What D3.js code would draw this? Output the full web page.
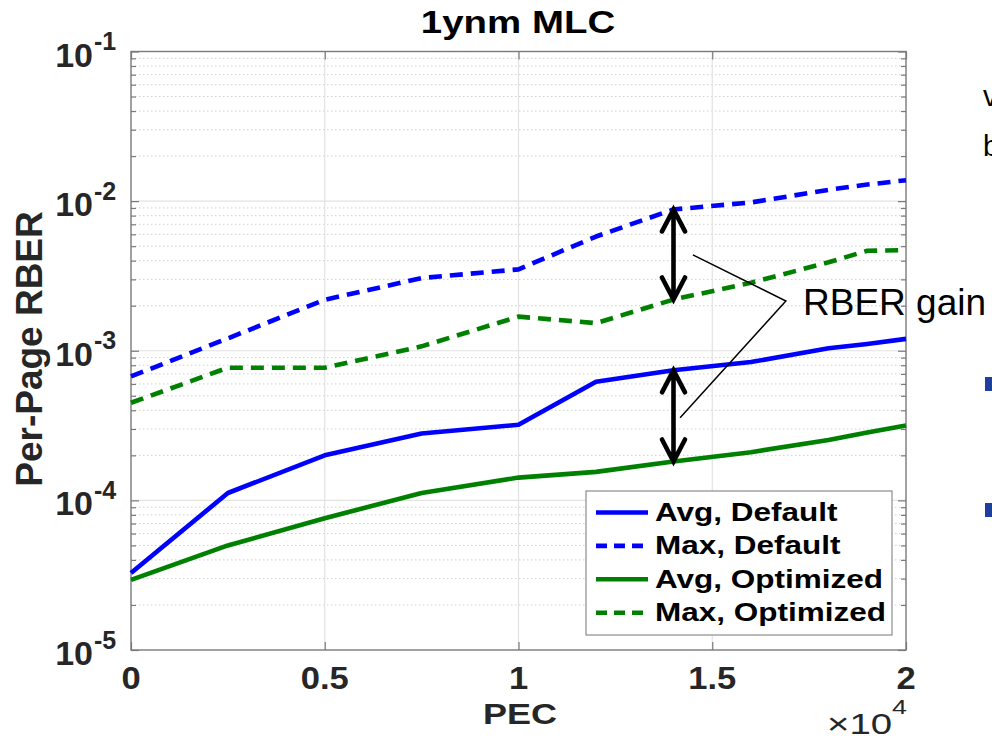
<!DOCTYPE html>
<html><head><meta charset="utf-8">
<script src="https://cdn.jsdelivr.net/npm/d3@7"></script>
<style>body{margin:0;background:#fff} svg{display:block}</style>
</head><body><svg id="c" width="992" height="740"></svg>
<script>
// ---- data ----
const pec = [0, 2500, 5000, 7500, 10000, 12000, 14000, 16000, 18000, 19000, 20000];
const avgDefault   = [3.27e-5, 1.12e-4, 2.0e-4, 2.8e-4, 3.2e-4, 6.2e-4, 7.4e-4, 8.4e-4, 1.04e-3, 1.11e-3, 1.2e-3];
const maxDefault   = [6.73e-4, 1.21e-3, 2.19e-3, 3.06e-3, 3.5e-3, 5.8e-3, 8.8e-3, 9.8e-3, 1.19e-2, 1.29e-2, 1.38e-2];
const avgOptimized = [2.94e-5, 5.0e-5, 7.6e-5, 1.12e-4, 1.42e-4, 1.55e-4, 1.82e-4, 2.1e-4, 2.53e-4, 2.84e-4, 3.16e-4];
const maxOptimized = [4.49e-4, 7.7e-4, 7.7e-4, 1.07e-3, 1.69e-3, 1.53e-3, 2.2e-3, 2.85e-3, 3.9e-3, 4.66e-3, 4.7e-3];
const seriesNames = ["Avg, Default", "Max, Default", "Avg, Optimized", "Max, Optimized"];
const xTicks = [0, 5000, 10000, 15000, 20000];
const xTickLabels = ["0", "0.5", "1", "1.5", "2"];
const yTickExps = [-5, -4, -3, -2, -1];
const arrowPec = 14000;
const gainLine = [[14500, 4.37e-3], [16900, 2.15e-3], [14170, 3.56e-4]];

// ---- layout ----
const L = 131, R = 906, T = 51.5, B = 650;
const x = d3.scaleLinear().domain([0, 20000]).range([L, R]);
const y = d3.scaleLog().domain([1e-5, 1e-1]).range([B, T]);
const svg = d3.select("#c");
const FONT = "'Liberation Sans', Arial, Helvetica, sans-serif";
svg.append("rect").attr("width", 992).attr("height", 740).attr("fill", "#fff");

const majorY = yTickExps.map(e => Math.pow(10, e));
const minorY = [];
yTickExps.slice(0, -1).forEach(e => { for (let k = 2; k <= 9; k++) minorY.push(k * Math.pow(10, e)); });

// grid
const g = svg.append("g");
g.selectAll(".mg").data(minorY).join("line")
  .attr("x1", L).attr("x2", R).attr("y1", d => y(d)).attr("y2", d => y(d))
  .attr("stroke", "#cfcfcf").attr("stroke-width", 1).attr("stroke-dasharray", "1.5,2.5");
g.selectAll(".Mg").data(majorY.slice(1, -1)).join("line")
  .attr("x1", L).attr("x2", R).attr("y1", d => y(d)).attr("y2", d => y(d))
  .attr("stroke", "#e2e2e2").attr("stroke-width", 1.2);
g.selectAll(".xg").data(xTicks.slice(1, -1)).join("line")
  .attr("y1", T).attr("y2", B).attr("x1", d => x(d)).attr("x2", d => x(d))
  .attr("stroke", "#e2e2e2").attr("stroke-width", 1.2);

// ticks via d3 axes (inward)
const axCol = "#7a7a7a";
function styleAxis(sel) {
  sel.select(".domain").remove();
  sel.selectAll("line").attr("stroke", axCol).attr("stroke-width", 1.2);
  sel.selectAll("text").remove();
}
svg.append("g").attr("transform", `translate(${L},0)`).call(d3.axisLeft(y).tickValues(majorY).tickSize(-8).tickFormat("")).call(styleAxis);
svg.append("g").attr("transform", `translate(${L},0)`).call(d3.axisLeft(y).tickValues(minorY).tickSize(-5).tickFormat("")).call(styleAxis);
svg.append("g").attr("transform", `translate(${R},0)`).call(d3.axisRight(y).tickValues(majorY).tickSize(-8).tickFormat("")).call(styleAxis);
svg.append("g").attr("transform", `translate(${R},0)`).call(d3.axisRight(y).tickValues(minorY).tickSize(-5).tickFormat("")).call(styleAxis);
svg.append("g").attr("transform", `translate(0,${B})`).call(d3.axisBottom(x).tickValues(xTicks).tickSize(-8).tickFormat("")).call(styleAxis);
svg.append("g").attr("transform", `translate(0,${T})`).call(d3.axisTop(x).tickValues(xTicks).tickSize(-8).tickFormat("")).call(styleAxis);

// box
svg.append("rect").attr("x", L).attr("y", T).attr("width", R - L).attr("height", B - T)
  .attr("fill", "none").attr("stroke", axCol).attr("stroke-width", 1.4);

// series
const BLUE = "#0000ff", GREEN = "#008000";
const series = [
  { name: seriesNames[0], vals: avgDefault, color: BLUE, dash: null },
  { name: seriesNames[1], vals: maxDefault, color: BLUE, dash: "13,8" },
  { name: seriesNames[2], vals: avgOptimized, color: GREEN, dash: null },
  { name: seriesNames[3], vals: maxOptimized, color: GREEN, dash: "13,8" }
];
const line = d3.line().x(d => x(d[0])).y(d => y(d[1]));
series.forEach(s => {
  svg.append("path").datum(pec.map((p, i) => [p, s.vals[i]]))
    .attr("d", line).attr("fill", "none").attr("stroke", s.color)
    .attr("stroke-width", 4.6).attr("stroke-linejoin", "round")
    .attr("stroke-dasharray", s.dash);
});

// helper for text with horizontal stretch
function txt(xp, yp, str, size, opts = {}) {
  const t = svg.append("text")
    .attr("transform", `translate(${xp},${yp}) ${opts.rot ? "rotate(" + opts.rot + ")" : ""} scale(${opts.sx || 1},1)`)
    .attr("font-family", FONT).attr("font-size", size)
    .attr("font-weight", opts.weight || "normal")
    .attr("fill", opts.fill || "#000")
    .attr("text-anchor", opts.anchor || "start")
    .text(str);
  return t;
}

// title
txt(518, 33, "1ynm MLC", 31, { weight: "bold", anchor: "middle", sx: 1.24 });

// y tick labels
yTickExps.forEach(e => {
  const yy = y(Math.pow(10, e));
  txt(93, yy + 15, "10", 34, { weight: "bold", anchor: "end", fill: "#262626" });
  txt(94, yy - 1.5, String(e), 25, { weight: "bold", fill: "#262626" });
});
// x tick labels
xTicks.forEach((v, i) => {
  txt(x(v), 689, xTickLabels[i], 32, { weight: "bold", anchor: "middle", sx: 1.08, fill: "#262626" });
});
// axis labels
txt(520, 724, "PEC", 30, { weight: "bold", anchor: "middle", sx: 1.2, fill: "#262626" });
txt(42, 349, "Per-Page RBER", 37, { weight: "bold", anchor: "middle", rot: -90, fill: "#262626" });
// exponent label
const ex = svg.append("text").attr("transform", "translate(827,734) scale(1.28,1)")
  .attr("font-family", FONT).attr("fill", "#262626");
ex.append("tspan").attr("font-size", 30).text("\u00d710");
ex.append("tspan").attr("font-size", 21).attr("dy", -20).text("4");

// legend
const lg = svg.append("g");
lg.append("rect").attr("x", 586).attr("y", 491).attr("width", 306).attr("height", 144)
  .attr("fill", "#fff").attr("stroke", "#8c8c8c").attr("stroke-width", 1.2);
series.forEach((s, i) => {
  const yy = 512.5 + i * 33.4;
  lg.append("line").attr("x1", 596).attr("x2", 648).attr("y1", yy).attr("y2", yy)
    .attr("stroke", s.color).attr("stroke-width", 4.6).attr("stroke-dasharray", s.dash ? "11,7" : null);
  txt(655, 521 + i * 33.4, s.name, 25, { weight: "bold", sx: 1.26 });
});

// arrows
const ai = pec.indexOf(arrowPec);
function dArrow(v1, v2) {
  const ax = x(arrowPec), y1 = y(v1), y2 = y(v2);
  const hw = 11.5, hh = 22;
  svg.append("path")
    .attr("d", `M${ax},${y1}L${ax},${y2}M${ax - hw},${y1 + hh}L${ax},${y1}L${ax + hw},${y1 + hh}M${ax - hw},${y2 - hh}L${ax},${y2}L${ax + hw},${y2 - hh}`)
    .attr("fill", "none").attr("stroke", "#000").attr("stroke-width", 4.6)
    .attr("stroke-linejoin", "miter").attr("stroke-linecap", "round");
}
dArrow(maxDefault[ai], maxOptimized[ai]);
dArrow(avgDefault[ai], avgOptimized[ai]);

// gain pointer lines
svg.append("path").datum(gainLine).attr("d", line).attr("fill", "none")
  .attr("stroke", "#000").attr("stroke-width", 1.5);
txt(803, 315, "RBER gain", 37);

// cut-off slide content at the right edge (as in the reference)
txt(983, 106, "v", 29);
txt(983, 156, "b", 29);
svg.append("rect").attr("x", 985).attr("y", 377).attr("width", 14).attr("height", 14).attr("fill", "#1f3f9c");
svg.append("rect").attr("x", 985).attr("y", 503).attr("width", 14).attr("height", 14).attr("fill", "#1f3f9c");
</script></body></html>
